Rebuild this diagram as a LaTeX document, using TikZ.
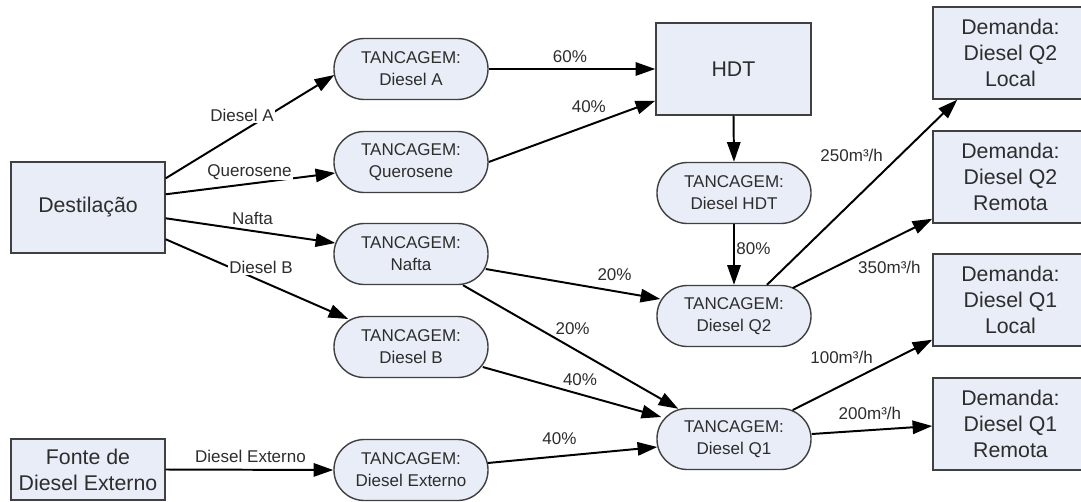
\documentclass[tikz,border=0pt]{standalone}
\usepackage{fontspec}
\setmainfont{Liberation Sans}
\usetikzlibrary{arrows.meta,calc}
\definecolor{boxfill}{RGB}{232,237,247}
\definecolor{boxline}{RGB}{64,64,64}
\definecolor{txt}{RGB}{45,45,45}
\begin{document}
\begin{tikzpicture}[x=0.025cm,y=-0.025cm,
  bigbox/.style={draw=boxline,line width=1pt,fill=boxfill,minimum width=3.85cm,minimum height=2.3cm,
    inner sep=0pt,align=center,text=txt,font=\fontsize{15.15}{18.5}\selectfont},
  tank/.style={draw=boxline,line width=1pt,fill=boxfill,rounded corners=0.76cm,minimum width=3.85cm,
    minimum height=1.525cm,inner sep=0pt,align=center,text=txt,font=\fontsize{12.1}{15.6}\selectfont},
  flow/.style={line width=1.4pt,-{Triangle[length=14pt,width=9.5pt]}},
  lbl/.style={fill=white,inner sep=0.8pt,text=txt,font=\fontsize{12.1}{14}\selectfont}]
\useasboundingbox (0,0) rectangle (1081,501);

% boxes
\node[bigbox,minimum height=2.275cm] (dest) at (88,207.5) {Destilação};
\node[bigbox,minimum height=1.525cm] (fonte) at (88,469.5) {Fonte de\\Diesel Externo};
\node[bigbox,minimum width=3.875cm] (hdt) at (733.5,69) {HDT};
\node[bigbox,minimum width=3.875cm] (dq2l) at (1010.5,53) {Demanda:\\Diesel Q2\\Local};
\node[bigbox,minimum width=3.875cm] (dq2r) at (1010.5,177) {Demanda:\\Diesel Q2\\Remota};
\node[bigbox,minimum width=3.875cm] (dq1l) at (1010.5,300) {Demanda:\\Diesel Q1\\Local};
\node[bigbox,minimum width=3.875cm] (dq1r) at (1010.5,424) {Demanda:\\Diesel Q1\\Remota};

% tanks
\node[tank] (da) at (411,69) {TANCAGEM:\\Diesel A};
\node[tank] (qu) at (411,162) {TANCAGEM:\\Querosene};
\node[tank] (na) at (411,254) {TANCAGEM:\\Nafta};
\node[tank] (db) at (411,347) {TANCAGEM:\\Diesel B};
\node[tank] (de) at (411,470) {TANCAGEM:\\Diesel Externo};
\node[tank] (th) at (734,193) {TANCAGEM:\\Diesel HDT};
\node[tank] (q2) at (734,316) {TANCAGEM:\\Diesel Q2};
\node[tank] (q1) at (734,439) {TANCAGEM:\\Diesel Q1};

% connectors
\draw[flow] ($(dest.north east)+(0,17)$) -- node[lbl,pos=0.453,shift={(0,-16)}] {Diesel A} ($(da.west)+(1,6)$);
\draw[flow] ($(dest.north east)+(0,33)$) -- node[lbl,pos=0.494,shift={(0,-12)}] {Querosene} ($(qu.west)+(2,11)$);
\draw[flow] ($(dest.north east)+(0,57)$) -- node[lbl,pos=0.512,shift={(0,-13)}] {Nafta} ($(na.west)+(2,-11)$);
\draw[flow] ($(dest.north east)+(0,78)$) -- node[lbl,pos=0.522,shift={(0,-13)}] {Diesel B} ($(db.west)+(15,-28)$);
\draw[flow] (fonte.east) -- node[lbl,pos=0.506,shift={(0,-13)}] {Diesel Externo} (de.west);

\draw[flow] (da.east) -- node[lbl,pos=0.488,shift={(0,-12)}] {60\%} (hdt.west);
\draw[flow] (qu.east) -- node[lbl,pos=0.601,shift={(0,-19)}] {40\%} ($(hdt.south west)+(0,-15)$);
\draw[flow] (hdt.south) -- (th.north);
\draw[flow] (th.south) -- node[lbl,pos=0.4,right,inner sep=1pt,fill=none] {80\%} (q2.north);

\draw[flow] ($(na.east)+(-3,15)$) -- node[lbl,pos=0.738,shift={(0,-17)}] {20\%} ($(q2.west)+(4,-17)$);
\draw[flow] ($(na.south)+(52,0)$) -- node[lbl,pos=0.509,shift={(0,-19)}] {20\%} ($(q1.north west)+(22,1)$);
\draw[flow] ($(db.east)+(-6,20)$) -- node[lbl,pos=0.545,shift={(0,-15)}] {40\%} ($(q1.west)+(5,-22)$);
\draw[flow] ($(de.east)+(-1,-7)$) -- node[lbl,pos=0.423,shift={(0,-18)}] {40\%} ($(q1.west)+(1,8)$);

\draw[flow] ($(q2.north)+(33,0)$) -- node[lbl,pos=0.445,shift={(0,-47)}] {250m³/h} ($(dq2l.south west)+(25,0)$);
\draw[flow] ($(q2.east)+(-19,-28)$) -- node[lbl,pos=0.693,shift={(0,27)}] {350m³/h} ($(dq2r.south west)+(0,-5)$);
\draw[flow] ($(q1.east)+(-19,-29)$) -- node[lbl,pos=0.35,shift={(0,-27.5)}] {100m³/h} ($(dq1l.south west)+(0,-7)$);
\draw[flow] ($(q1.east)+(0,-5)$) -- node[lbl,pos=0.483,shift={(0,-17)}] {200m³/h} ($(dq1r.west)+(0,2)$);
\end{tikzpicture}
\end{document}
